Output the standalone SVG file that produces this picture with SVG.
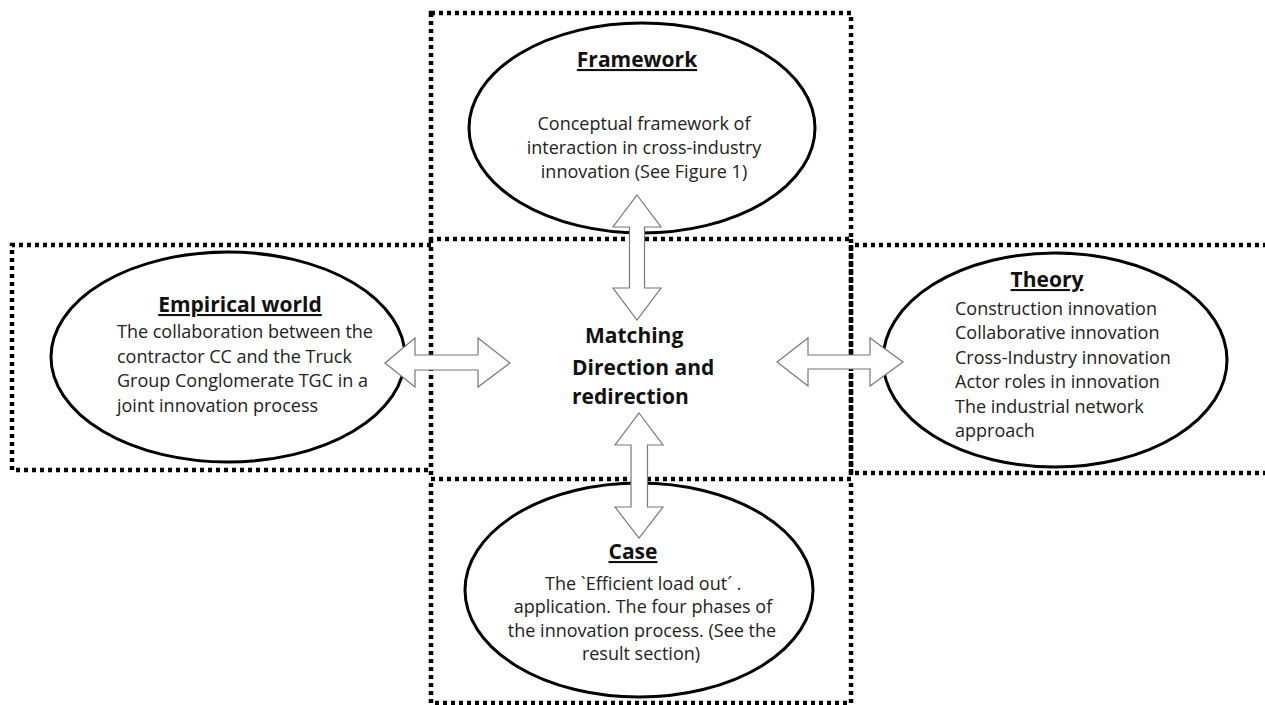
<svg xmlns="http://www.w3.org/2000/svg" width="1265" height="705" viewBox="0 0 1265 705">
<style>
.dot{fill:none;stroke:#000;stroke-width:4.5;stroke-dasharray:4 4}
.ell{fill:#fff;stroke:#000;stroke-width:3}
.title{font-family:"Open Sans","Liberation Sans",sans-serif;font-weight:bold;font-size:21px;fill:#111;text-decoration:underline}
.body{font-family:"Open Sans","Liberation Sans",sans-serif;font-size:18px;fill:#222}
.center{font-family:"Open Sans","Liberation Sans",sans-serif;font-weight:bold;font-size:21px;fill:#111}
.arr{fill:#fff;stroke:#777;stroke-width:1.2}
</style>
<rect width="1265" height="705" fill="#fff"/>
<g id="boxes">
<rect class="dot" x="431" y="13" width="420" height="226"/>
<rect class="dot" x="431" y="479" width="420" height="224"/>
<path class="dot" d="M431 245 H12 V470 H431"/>
<path class="dot" d="M1275 245 H851 V473 H1275"/>
<path class="dot" d="M431 239 V479 M851 239 V479"/>
</g>
<g id="framework">
<ellipse class="ell" cx="642" cy="128" rx="173" ry="105"/>
<text class="title" x="637" y="67" text-anchor="middle">Framework</text>
<text class="body" text-anchor="middle"><tspan x="644" y="130">Conceptual framework of</tspan><tspan x="644" y="154">interaction in cross-industry</tspan><tspan x="644" y="178">innovation (See Figure 1)</tspan></text>
</g>
<g id="empirical">
<ellipse class="ell" cx="228" cy="357" rx="177" ry="105"/>
<text class="title" x="240" y="312" text-anchor="middle">Empirical world</text>
<text class="body"><tspan x="117" y="338">The collaboration between the</tspan><tspan x="117" y="363">contractor CC and the Truck</tspan><tspan x="117" y="387">Group Conglomerate TGC in a</tspan><tspan x="117" y="412">joint innovation process</tspan></text>
</g>
<g id="theory">
<ellipse class="ell" cx="1055" cy="360" rx="172" ry="107"/>
<text class="title" x="1047" y="287" text-anchor="middle">Theory</text>
<text class="body"><tspan x="955" y="315">Construction innovation</tspan><tspan x="955" y="339">Collaborative innovation</tspan><tspan x="955" y="364">Cross-Industry innovation</tspan><tspan x="955" y="388">Actor roles in innovation</tspan><tspan x="955" y="413">The industrial network</tspan><tspan x="955" y="437">approach</tspan></text>
</g>
<g id="case">
<ellipse class="ell" cx="639" cy="590" rx="174" ry="107"/>
<text class="title" x="633" y="559" text-anchor="middle">Case</text>
<text class="body"><tspan x="545" y="590">The `Efficient load out´ .</tspan></text>
<text class="body" text-anchor="middle"><tspan x="643" y="613">application. The four phases of</tspan><tspan x="642" y="637">the innovation process. (See the</tspan><tspan x="641" y="660">result section)</tspan></text>
</g>
<g id="matching">
<text class="center"><tspan x="585" y="343">Matching</tspan><tspan x="572" y="375">Direction and</tspan><tspan x="572" y="404">redirection</tspan></text>
</g>
<g id="connectors">
<polygon class="arr" points="637,195 661,227 644.5,227 644.5,288 661,288 637,320 613,288 629.5,288 629.5,227 613,227"/>
<polygon class="arr" points="639,413 663,445 647.5,445 647.5,507 663,507 639,538 615,507 631,507 631,445 615,445"/>
<polygon class="arr" points="385,363 415,338 415,355 478,355 478,338 510,363 478,387 478,370 415,370 415,387"/>
<polygon class="arr" points="777,362 808,338 808,355 870,355 870,338 903,362 870,386 870,369 808,369 808,386"/>
</g>
</svg>
